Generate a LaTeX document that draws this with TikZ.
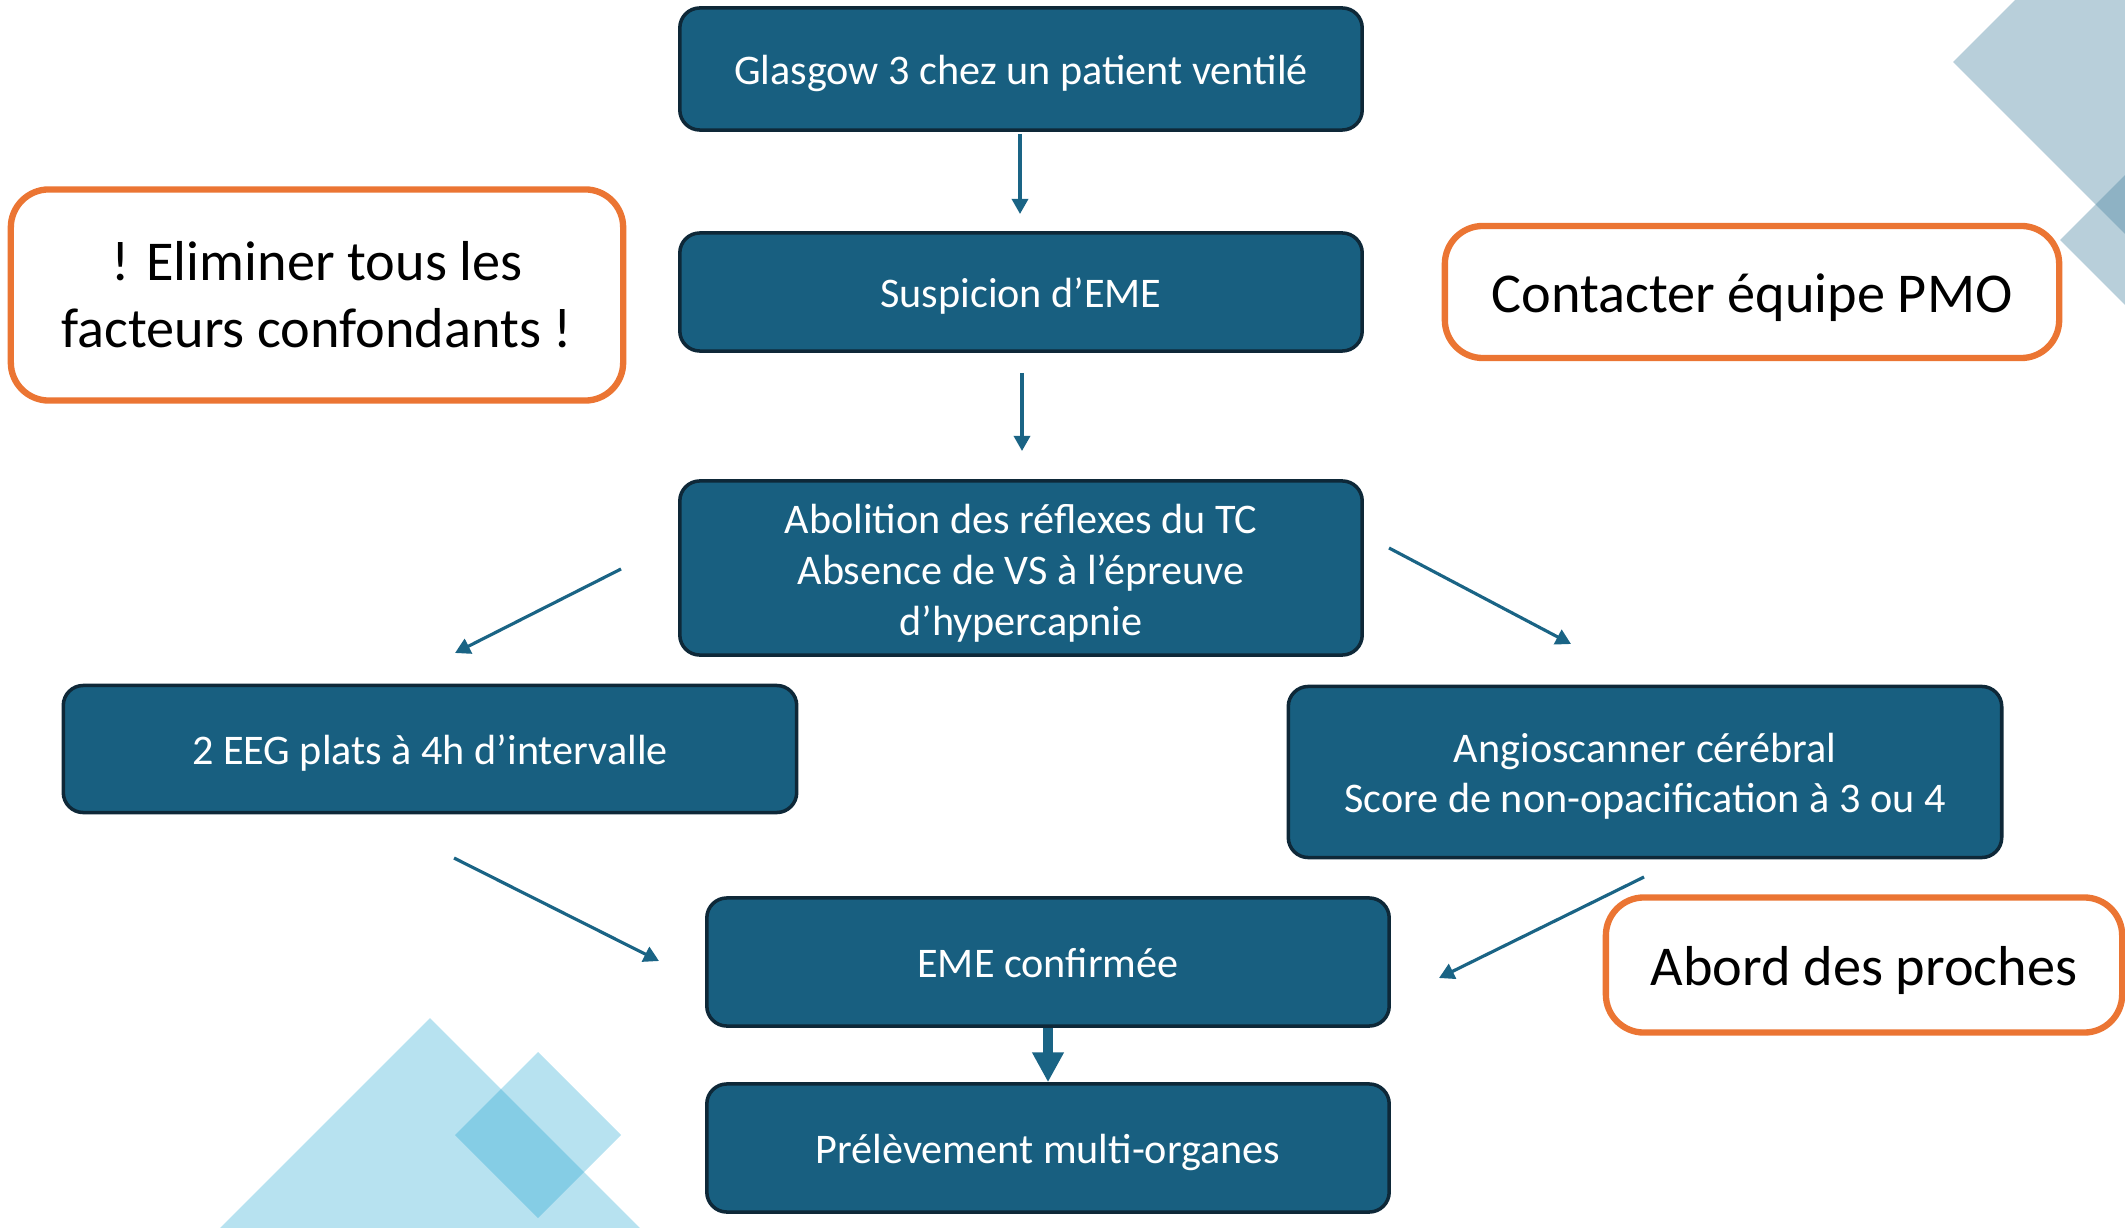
\documentclass[tikz,border=0pt]{standalone}
\usepackage{fontspec}
\setmainfont{Carlito}
\usetikzlibrary{arrows.meta}

\definecolor{boxblue}{RGB}{24,95,128}
\definecolor{boxedge}{RGB}{14,40,56}
\definecolor{arrowblue}{RGB}{26,100,133}
\definecolor{notecolor}{RGB}{235,117,51}
\definecolor{steeltint}{RGB}{78,135,163}
\definecolor{skytint}{RGB}{18,158,205}

% invisible strut that sets the height of a first text line
\newcommand{\linetop}[1]{\vrule width 0pt height #1\relax}

\tikzset{
  stepbox/.style={draw=boxedge, line width=1pt, fill=boxblue, rounded corners=0.2cm,
    text=white, font=\fontsize{12}{14.4}\selectfont, align=center, inner sep=0pt,
    execute at begin node={\vrule width 0pt height 11pt},
    execute at end node={\vrule width 0pt depth 2.4pt}},
  notebox/.style={draw=notecolor, line width=1.8pt, fill=white, rounded corners=0.38cm,
    text=black, font=\fontsize{16}{19}\selectfont, align=center, inner sep=0pt,
    execute at begin node={\vrule width 0pt height 14.6pt},
    execute at end node={\vrule width 0pt depth 3.2pt}},
  flow/.style={draw=arrowblue, line width=0.9pt, -{Triangle[length=4.3pt,width=4.6pt]}},
  bigflow/.style={draw=arrowblue, line width=2.8pt, -{Triangle[length=8.5pt,width=8.5pt]}},
}

\begin{document}
\begin{tikzpicture}[x=0.01cm, y=-0.01cm]
  \useasboundingbox (0,0) rectangle (2125,1228);

  % corner ornaments
  \begin{scope}
    \clip (0,0) rectangle (2125,1228);
    \fill[steeltint, opacity=0.4] (1953,62) -- (2200,-185) -- (2447,62) -- (2200,309) -- cycle;
    \fill[steeltint, opacity=0.4] (2060,240) -- (2150,150) -- (2240,240) -- (2150,330) -- cycle;
    \fill[skytint, opacity=0.3] (430,1018) -- (640,1228) -- (430,1438) -- (220,1228) -- cycle;
    \fill[skytint, opacity=0.3] (538,1052) -- (621,1135) -- (538,1218) -- (455,1135) -- cycle;
  \end{scope}

  % process steps
  \node[stepbox, minimum width=6.82cm, minimum height=1.22cm] (glasgow) at (1021,69)
    {Glasgow 3 chez un patient ventilé};
  \node[stepbox, minimum width=6.82cm, minimum height=1.18cm] (suspicion) at (1021,292)
    {Suspicion d’EME};
  \node[stepbox, minimum width=6.82cm, minimum height=1.74cm] (abolition) at (1021,568)
    {\linetop{11.8pt}Abolition des réflexes du TC\\Absence de VS à l’épreuve\\d’hypercapnie};
  \node[stepbox, minimum width=7.33cm, minimum height=1.27cm] (eeg) at (430,749)
    {2 EEG plats à 4h d’intervalle};
  \node[stepbox, minimum width=7.13cm, minimum height=1.71cm] (angio) at (1645,772)
    {\linetop{11.2pt}Angioscanner cérébral\\Score de non-opacification à 3 ou 4};
  \node[stepbox, minimum width=6.82cm, minimum height=1.28cm] (eme) at (1048,962)
    {EME confirmée};
  \node[stepbox, minimum width=6.82cm, minimum height=1.28cm] (pmo) at (1048,1148)
    {Prélèvement multi-organes};

  % side notes
  \node[notebox, minimum width=6.12cm, minimum height=2.11cm] (confond) at (317,295)
    {\linetop{14.1pt}! Eliminer tous les\\facteurs confondants !};
  \node[notebox, minimum width=6.14cm, minimum height=1.32cm] (contact) at (1752,292)
    {Contacter équipe PMO};
  \node[notebox, minimum width=5.16cm, minimum height=1.35cm] (proches) at (1864,965)
    {Abord des proches};

  % arrow end points
  \coordinate (a1s) at (1020,134);  \coordinate (a1e) at (1020,214);
  \coordinate (a2s) at (1022,373);  \coordinate (a2e) at (1022,451);
  \coordinate (a3s) at (621,569);   \coordinate (a3e) at (455,653);
  \coordinate (a4s) at (1389,548);  \coordinate (a4e) at (1571,644);
  \coordinate (a5s) at (454,858);   \coordinate (a5e) at (659,961);
  \coordinate (a6s) at (1644,877);  \coordinate (a6e) at (1439,978);

  \draw[flow] (a1s) -- (a1e);
  \draw[flow] (a2s) -- (a2e);
  \draw[flow] (a3s) -- (a3e);
  \draw[flow] (a4s) -- (a4e);
  \draw[flow] (a5s) -- (a5e);
  \draw[flow] (a6s) -- (a6e);
  \draw[bigflow] (eme.south) -- (pmo.north);
\end{tikzpicture}
\end{document}
